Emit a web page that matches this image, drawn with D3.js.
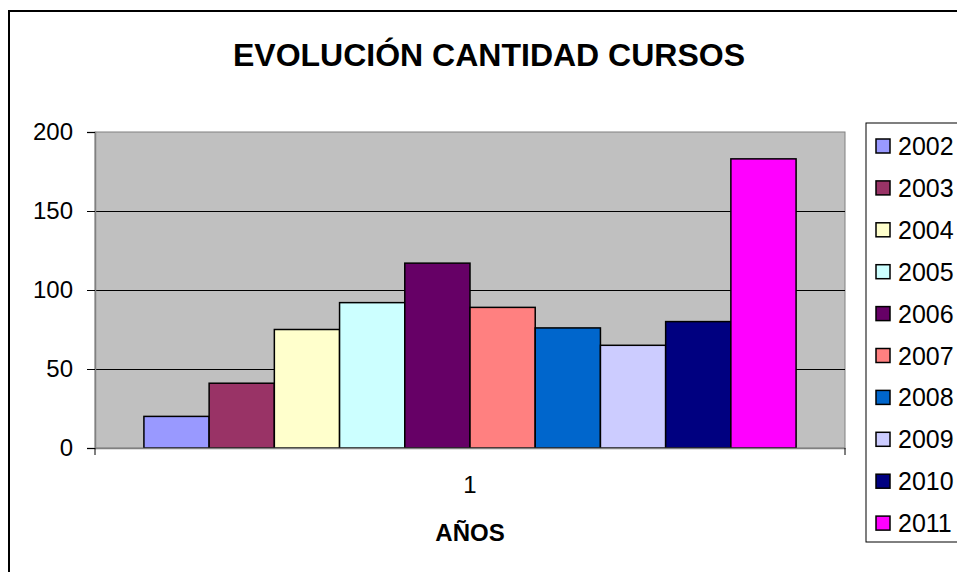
<!DOCTYPE html>
<html lang="es">
<head>
  <meta charset="UTF-8">
  <title>Evolución cantidad cursos</title>
  <script src="https://d3js.org/d3.v7.min.js"></script>
  <style>
    body { margin: 0; background: #fff; }
    svg { display: block; font-family: Arial, "Liberation Sans", sans-serif; }
  </style>
</head>
<body>
<svg id="chart" width="957" height="572"></svg>
<script>
// data
var categories = ["1"]
var years = ["2002", "2003", "2004", "2005", "2006", "2007", "2008", "2009", "2010", "2011"]
var cursos = [20, 41, 75, 92, 117, 89, 76, 65, 80, 183]
var colors = ["#9999FF", "#993366", "#FFFFCC", "#CCFFFF", "#660066", "#FF8080", "#0066CC", "#CCCCFF", "#000080", "#FF00FF"]
var yTicks = [0, 50, 100, 150, 200]

var svg = d3.select("#chart")

// outer chart frame (runs off the right and bottom of the picture)
svg.append("rect")
  .attr("x", 9).attr("y", 11)
  .attr("width", 1000).attr("height", 700)
  .attr("fill", "#fff").attr("stroke", "#000").attr("stroke-width", 2)

var plot = {left: 95, right: 845, top: 132, bottom: 448}

var y = d3.scaleLinear().domain([0, 200]).range([plot.bottom, plot.top])

// gap width 150% of a bar, split on both sides
var x0 = d3.scaleBand().domain(categories)
  .range([plot.left, plot.right])
  .paddingInner(0).paddingOuter(0.075)
var x1 = d3.scaleBand().domain(years).range([0, x0.bandwidth()])

svg.append("rect")
  .attr("x", plot.left).attr("y", plot.top)
  .attr("width", plot.right - plot.left).attr("height", plot.bottom - plot.top)
  .attr("fill", "#C0C0C0").attr("stroke", "#808080").attr("stroke-width", 1)

// gridlines
svg.append("g")
  .selectAll("line")
  .data(yTicks.filter(d => d > 0 && d < 200))
  .join("line")
    .attr("x1", plot.left).attr("x2", plot.right)
    .attr("y1", d => Math.round(y(d)) + 0.5).attr("y2", d => Math.round(y(d)) + 0.5)
    .attr("stroke", "#000").attr("stroke-width", 1)

// bars
svg.append("g")
  .selectAll("rect")
  .data(years.map((yr, i) => ({year: yr, value: cursos[i], color: colors[i]})))
  .join("rect")
    .attr("x", d => x0("1") + x1(d.year))
    .attr("y", d => y(d.value))
    .attr("width", x1.bandwidth())
    .attr("height", d => y(0) - y(d.value))
    .attr("fill", d => d.color)
    .attr("stroke", "#000").attr("stroke-width", 1.5)

// y axis
var yAxis = svg.append("g")
  .attr("transform", `translate(${plot.left},0)`)
  .call(d3.axisLeft(y).tickValues(yTicks).tickSize(8).tickPadding(14))
yAxis.select(".domain").attr("stroke", "#808080").attr("stroke-width", 1.5)
yAxis.selectAll(".tick line").attr("stroke", "#000")
yAxis.selectAll("text")
  .attr("font-size", "24px").attr("font-family", "Arial, 'Liberation Sans', sans-serif").attr("fill", "#000")

// x axis
var xAxis = svg.append("g")
  .attr("transform", `translate(0,${plot.bottom})`)
  .call(d3.axisBottom(x0).tickSize(0).tickPadding(28))
xAxis.select(".domain").attr("stroke", "#808080").attr("stroke-width", 1.5)
xAxis.selectAll("text")
  .attr("font-size", "24px").attr("font-family", "Arial, 'Liberation Sans', sans-serif").attr("fill", "#000")
xAxis.selectAll("line.edge")
  .data([plot.left, plot.right])
  .join("line").attr("class", "edge")
    .attr("x1", d => d).attr("x2", d => d)
    .attr("y1", 0).attr("y2", 7)
    .attr("stroke", "#000")

// titles
svg.append("text")
  .attr("x", 489).attr("y", 66)
  .attr("text-anchor", "middle")
  .attr("font-size", "32px").attr("font-weight", "bold")
  .text("EVOLUCIÓN CANTIDAD CURSOS")

svg.append("text")
  .attr("x", (plot.left + plot.right) / 2).attr("y", 541)
  .attr("text-anchor", "middle")
  .attr("font-size", "24px").attr("font-weight", "bold")
  .text("AÑOS")

// legend
var legend = svg.append("g")
legend.append("rect")
  .attr("x", 866).attr("y", 123)
  .attr("width", 200).attr("height", 419)
  .attr("fill", "#fff").attr("stroke", "#000").attr("stroke-width", 1)

var item = legend.selectAll("g.item")
  .data(years)
  .join("g").attr("class", "item")
    .attr("transform", (d, i) => `translate(876,${146 + i * 41.9})`)
item.append("rect")
  .attr("x", 0).attr("y", -7)
  .attr("width", 14).attr("height", 14)
  .attr("fill", (d, i) => colors[i])
  .attr("stroke", "#000").attr("stroke-width", 1.5)
item.append("text")
  .attr("x", 22).attr("y", 0).attr("dy", "0.36em")
  .attr("font-size", "25px")
  .text(d => d)
</script>
</body>
</html>
